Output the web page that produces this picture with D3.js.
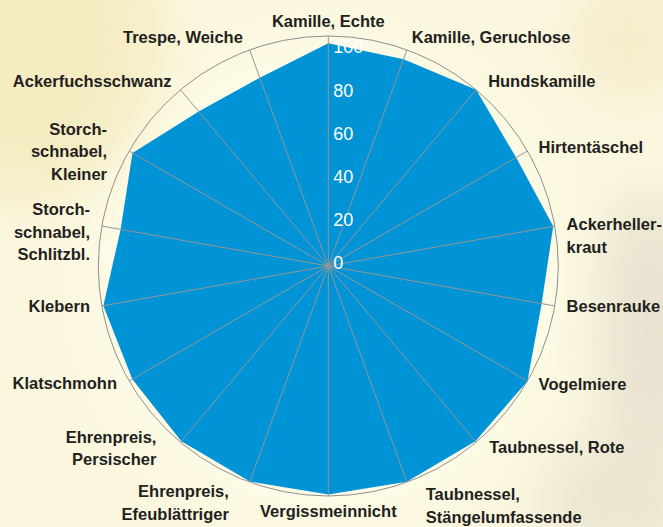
<!DOCTYPE html>
<html>
<head>
<meta charset="utf-8">
<script src="https://cdn.jsdelivr.net/npm/d3@7"></script>
<style>
  html, body { margin: 0; padding: 0; overflow: hidden; }
  svg { display: block; }
</style>
</head>
<body>
<svg id="chart" width="663" height="527"></svg>
<script>
// Weeds around the ring, clockwise from the top ('\n' = line break)
const categories = [
  'Kamille, Echte', 'Kamille, Geruchlose', 'Hundskamille', 'Hirtentäschel',
  'Ackerheller-\nkraut', 'Besenrauke', 'Vogelmiere', 'Taubnessel, Rote',
  'Taubnessel,\nStängelumfassende', 'Vergissmeinnicht',
  'Ehrenpreis,\nEfeublättriger', 'Ehrenpreis,\nPersischer', 'Klatschmohn',
  'Klebern', 'Storch-\nschnabel,\nSchlitzbl.', 'Storch-\nschnabel,\nKleiner',
  'Ackerfuchsschwanz', 'Trespe, Weiche'
]
const values = [96.8, 95.7, 100, 94.3, 99.3, 94.2, 100, 99.5, 99.8, 99.3,
  99.7, 99.4, 98.4, 99.3, 91.7, 98.3, 87.7, 87.1]
const ticks = [0, 20, 40, 60, 80, 100]

// hand placement of the names, as in the printed chart
const labelNudge = [[0, -1], [0, 0], [3, 2], [-1, 3], [-2, 12], [-2, -2],
  [-1, -4], [4, -6], [14, 10], [0, 1], [-16, 7], [-15, -5], [0, -5],
  [2, -2], [2, 8], [-10, 7], [0, 2], [-2, 0]]

const width = 663
const height = 527
const cx = 328.3
const cy = 266
const radius = 230

const svg = d3.select('#chart')
const defs = svg.append('defs')
defs.append('filter').attr('id', 'soft')
  .attr('x', '-50%').attr('y', '-50%').attr('width', '200%').attr('height', '200%')
  .append('feGaussianBlur').attr('stdDeviation', 28)

// blurry photo-like background
svg.append('rect')
  .attr('width', width).attr('height', height)
  .attr('fill', '#fbf7df')
const bg = svg.append('g').attr('filter', 'url(#soft)')
bg.append('ellipse').attr('cx', 20).attr('cy', 40).attr('rx', 140).attr('ry', 160).attr('fill', '#f5ecc2')
bg.append('ellipse').attr('cx', 330).attr('cy', 280).attr('rx', 230).attr('ry', 230).attr('fill', '#fefde9')
bg.append('ellipse').attr('cx', 650).attr('cy', 330).attr('rx', 50).attr('ry', 140).attr('fill', '#e7e1cf')
bg.append('ellipse').attr('cx', 620).attr('cy', 500).attr('rx', 80).attr('ry', 60).attr('fill', '#ebe5d2')
bg.append('ellipse').attr('cx', 630).attr('cy', 40).attr('rx', 60).attr('ry', 60).attr('fill', '#f5eccb')

const n = categories.length
const angle = d3.scaleLinear().domain([0, n]).range([0, 2 * Math.PI])
const r = d3.scaleLinear().domain([0, 100]).range([0, radius])
// the value labels sit a little inside the outer ring in the original
const tickPos = r.copy().range([2.7, 218.7])

const g = svg.append('g').attr('transform', `translate(${cx},${cy})`)

// outer ring
g.append('circle')
  .attr('r', r(100))
  .attr('fill', 'none')
  .attr('stroke', '#8f8f8f')
  .attr('stroke-width', 1)

// data area
const area = d3.lineRadial()
  .angle((d, i) => angle(i))
  .radius(d => r(d))
  .curve(d3.curveLinearClosed)

g.append('path')
  .datum(values)
  .attr('d', area)
  .attr('fill', '#0094d6')

// spokes
g.selectAll('.spoke')
  .data(categories)
  .enter()
  .append('line')
  .attr('class', 'spoke')
  .attr('x1', 0).attr('y1', 0)
  .attr('x2', (d, i) => d3.pointRadial(angle(i), r(100))[0])
  .attr('y2', (d, i) => d3.pointRadial(angle(i), r(100))[1])
  .attr('stroke', '#959595')
  .attr('stroke-width', 1)

// value scale labels
g.selectAll('.tick-label')
  .data(ticks)
  .enter()
  .append('text')
  .attr('class', 'tick-label')
  .attr('x', 5)
  .attr('y', d => -tickPos(d))
  .attr('dominant-baseline', 'central')
  .attr('fill', '#ffffff')
  .style('font-family', '"Liberation Sans", Arial, sans-serif')
  .style('font-size', '18px')
  .text(d => d)

// category names
const lineHeight = 22.5
const labels = g.selectAll('.cat-label')
  .data(categories)
  .enter()
  .append('text')
  .attr('class', 'cat-label')
  .attr('text-anchor', (d, i) => {
    const s = Math.sin(angle(i))
    return Math.abs(s) < 0.1 ? 'middle' : (s > 0 ? 'start' : 'end')
  })
  .attr('fill', '#231f20')
  .style('font-family', '"Liberation Sans", Arial, sans-serif')
  .style('font-weight', 'bold')
  .style('font-size', '16.5px')

labels.each(function (d, i) {
  const p = d3.pointRadial(angle(i), 244)
  const lines = d.split('\n')
  const x = p[0] + labelNudge[i][0]
  const y0 = p[1] + labelNudge[i][1] - (lines.length - 1) * lineHeight / 2
  d3.select(this).selectAll('tspan')
    .data(lines)
    .enter()
    .append('tspan')
    .attr('x', x)
    .attr('y', (t, k) => y0 + k * lineHeight)
    .attr('dominant-baseline', 'central')
    .text(t => t)
})
</script>
</body>
</html>
